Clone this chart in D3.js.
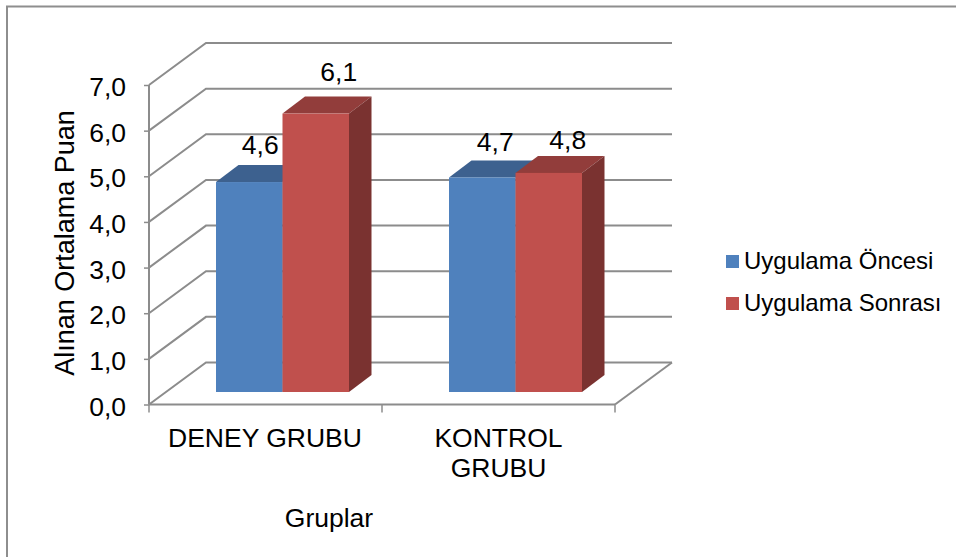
<!DOCTYPE html>
<html>
<head>
<meta charset="utf-8">
<script src="https://cdn.jsdelivr.net/npm/d3@7"></script>
<style>
  html, body { margin: 0; padding: 0; background: #fff; }
  svg { display: block; }
  text { font-family: "Liberation Sans", Arial, sans-serif; fill: #000; }
</style>
</head>
<body>
<script>
// Mean score per group, before and after the intervention
const groups = ["DENEY GRUBU", "KONTROL GRUBU"];
const seriesNames = ["Uygulama Öncesi", "Uygulama Sonrası"];
const before = [4.6, 4.7];
const after = [6.1, 4.8];
const valueLabels = [["4,6", "4,7"], ["6,1", "4,8"]];
const tickValues = [0, 1, 2, 3, 4, 5, 6, 7];
const tickLabels = ["0,0", "1,0", "2,0", "3,0", "4,0", "5,0", "6,0", "7,0"];
const faceColors = ["#4f81bd", "#c0504d"];
const topColors = ["#3d618f", "#923d3b"];
const sideColors = ["#335176", "#7a3230"];

const width = 956, height = 557;
const svg = d3.select("body").append("svg").attr("width", width).attr("height", height);

// Projection of the 3D box: the back wall sits up and to the right of the front plane
const plot = { left: 149, right: 615, bottom: 404.5, top: 85 };
const wall = { dx: 57, dy: 42 };
const bar = { dx: 22.5, dy: 17, inX: 17, inY: 12.5 };

const y = d3.scaleLinear().domain([0, 7]).range([plot.bottom, plot.top]);
const x0 = d3.scaleBand().domain(groups).range([plot.left, plot.right]);
const x1 = d3.scaleBand().domain(seriesNames).range([50, x0.bandwidth() - 50]);

const gridColor = "#8c8c8c";
const fontSize = 26.5;

// Frame along the top and left of the chart area
svg.append("path")
  .attr("d", `M7,${height}V6.5H${width}`)
  .attr("fill", "none").attr("stroke", "#8e8e8e").attr("stroke-width", 2);

// Floor and wall lines for every value step
const grid = svg.append("g").attr("fill", "none").attr("stroke", gridColor).attr("stroke-width", 2);
grid.selectAll("path").data(tickValues).join("path")
  .attr("d", d => {
    const p = d3.path();
    p.moveTo(plot.left, y(d));
    p.lineTo(plot.left + wall.dx, y(d) - wall.dy);
    p.lineTo(plot.right + wall.dx, y(d) - wall.dy);
    return p.toString();
  });

// Floor edge on the right, then the front axes
grid.append("path").attr("d", `M${plot.right},${plot.bottom}L${plot.right + wall.dx},${plot.bottom - wall.dy}`);
grid.append("path").attr("d", `M${plot.left},${plot.bottom}H${plot.right}`);
grid.append("path").attr("d", `M${plot.left},${plot.bottom}V${plot.top}`);

// Value axis: ticks and labels
const yAxis = svg.append("g").attr("transform", `translate(${plot.left},0)`)
  .call(d3.axisLeft(y).tickValues(tickValues).tickFormat((d, i) => tickLabels[i]).tickSize(5).tickPadding(18));
yAxis.select(".domain").remove();
yAxis.selectAll("line").attr("stroke", gridColor).attr("stroke-width", 1.5);
yAxis.selectAll("text").attr("font-size", fontSize).attr("fill", "#000")
  .attr("font-family", '"Liberation Sans", Arial, sans-serif').attr("dy", "0.4em");

// Category axis ticks
svg.append("g").attr("stroke", gridColor).attr("stroke-width", 1.5)
  .selectAll("line").data([...groups.map(g => x0(g)), plot.right]).join("line")
  .attr("x1", d => d).attr("x2", d => d)
  .attr("y1", plot.bottom).attr("y2", plot.bottom + 8);

// Bars, each made of a front, a top and a side face
const values = [before, after];
const bars = svg.append("g");
groups.forEach((g, gi) => {
  seriesNames.forEach((s, si) => {
    const v = values[si][gi];
    const l = x0(g) + x1(s) + bar.inX;
    const r = l + x1.bandwidth();
    const base = y(0) - bar.inY;
    const t = base - (y(0) - y(v));
    const cell = bars.append("g");
    cell.append("path")
      .attr("d", `M${l},${t}L${l + bar.dx},${t - bar.dy}H${r + bar.dx}L${r},${t}Z`)
      .attr("fill", topColors[si]);
    cell.append("path")
      .attr("d", `M${r},${t}L${r + bar.dx},${t - bar.dy}V${base - bar.dy}L${r},${base}Z`)
      .attr("fill", sideColors[si]);
    cell.append("rect")
      .attr("x", l).attr("y", t)
      .attr("width", r - l).attr("height", base - t)
      .attr("fill", faceColors[si]);
  });
});

// Value labels above the bars, each nudged clear of its neighbour
const labelNudgeX = [[11, 13], [23, 19]];
const labelNudgeY = [[-28, -26], [-33, -24]];
groups.forEach((g, gi) => {
  seriesNames.forEach((s, si) => {
    const c = x0(g) + x1(s) + bar.inX + x1.bandwidth() / 2;
    const t = y(0) - bar.inY - (y(0) - y(values[si][gi]));
    svg.append("text")
      .attr("x", c + labelNudgeX[si][gi]).attr("y", t + labelNudgeY[si][gi])
      .attr("text-anchor", "middle").attr("font-size", fontSize)
      .text(valueLabels[si][gi]);
  });
});

// Category labels
svg.append("text").attr("x", 265).attr("y", 447).attr("text-anchor", "middle").attr("font-size", fontSize).text("DENEY GRUBU");
const k = svg.append("text").attr("text-anchor", "middle").attr("font-size", fontSize);
k.append("tspan").attr("x", 498.5).attr("y", 447).text("KONTROL");
k.append("tspan").attr("x", 498.5).attr("y", 477).text("GRUBU");

// Axis titles
svg.append("text").attr("x", 329).attr("y", 527).attr("text-anchor", "middle").attr("font-size", fontSize).text("Gruplar");
svg.append("text").attr("transform", "translate(74,243) rotate(-90)").attr("text-anchor", "middle").attr("font-size", 27).text("Alınan Ortalama Puan");

// Legend
const legend = svg.append("g");
seriesNames.forEach((s, i) => {
  const ly = 255 + i * 42;
  legend.append("rect").attr("x", 726).attr("y", ly).attr("width", 13).attr("height", 13).attr("fill", faceColors[i]);
  legend.append("text").attr("x", 744).attr("y", ly + 14).attr("font-size", 24).text(s);
});
</script>
</body>
</html>
